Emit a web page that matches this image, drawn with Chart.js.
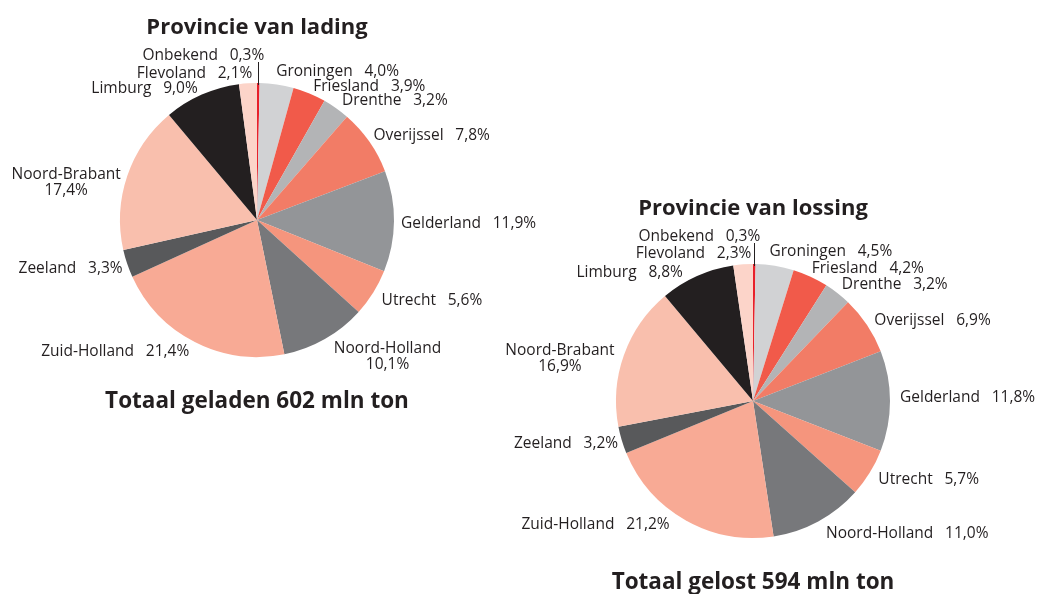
<!DOCTYPE html>
<html>
<head>
<meta charset="utf-8">
<script src="https://cdn.jsdelivr.net/npm/chart.js@4/dist/chart.umd.min.js"></script>
<style>
  html, body { margin: 0; padding: 0; background: #ffffff; }
  #wrap { position: relative; width: 1040px; height: 594px; overflow: hidden; }
  canvas { position: absolute; top: 0; left: 0; }
</style>
</head>
<body>
<div id="wrap">
  <canvas id="cLading" width="1040" height="594"></canvas>
  <canvas id="cLossing" width="1040" height="594"></canvas>
</div>
<script>
// ---- data ----
const categories = ['Onbekend', 'Groningen', 'Friesland', 'Drenthe', 'Overijssel', 'Gelderland',
  'Utrecht', 'Noord-Holland', 'Zuid-Holland', 'Zeeland', 'Noord-Brabant', 'Limburg', 'Flevoland'];
const ladingValues  = [0.3, 4.0, 3.9, 3.2, 7.8, 11.9, 5.6, 10.1, 21.4, 3.3, 17.4, 9.0, 2.1];
const lossingValues = [0.3, 4.5, 4.2, 3.2, 6.9, 11.8, 5.7, 11.0, 21.2, 3.2, 16.9, 8.8, 2.3];
const ladingTitle = 'Provincie van lading';
const ladingTotal = 'Totaal geladen 602 mln ton';
const lossingTitle = 'Provincie van lossing';
const lossingTotal = 'Totaal gelost 594 mln ton';

// ---- styles ----
const sliceColors = ['#e8202a', '#d1d2d4', '#f15a4a', '#b3b4b6', '#f27c66', '#939598',
  '#f5957d', '#77787b', '#f8aa95', '#58595b', '#f9bfad', '#231f20', '#fcd4c9'];
const textColor = '#231f20';
const labelFont = '15.5px "Open Sans"';
const titleFont = 'bold 22px "Open Sans"';
const totalFont = 'bold 22.5px "Open Sans"';
const nameGap = '\u2002 ';

// label layout tweaks (pixel nudges from the default anchor just outside each slice)
const ladingLayout = {
  nudges: [[0,0],[-2,-3],[0,2],[0,1],[-4,0],[-3,2],[0,3],[4,1],[-1,1],[5,2],[3,2],[0,3],[5,0]],
  wrap: ['Noord-Holland', 'Noord-Brabant'],
  padding: { left: 120, right: 646, top: 83, bottom: 237 }
};
const lossingLayout = {
  nudges: [[0,0],[-7,-4],[-3,1],[-2,-1],[-1,1],[0,-3],[0,2],[3,3],[-11,-4],[6,1],[0,-1],[-10,6],[9,-1]],
  wrap: ['Noord-Brabant'],
  padding: { left: 616, right: 150, top: 264, bottom: 56 }
};

function fmtPct(v) { return v.toFixed(1).replace('.', ',') + '%'; }

const labelPlugin = {
  id: 'pieLabels',
  afterDatasetsDraw(chart, args, opts) {
    const ctx = chart.ctx;
    const meta = chart.getDatasetMeta(0);
    const values = chart.data.datasets[0].data;
    const labels = chart.data.labels;
    let cx = 0, cy = 0, R = 0;
    ctx.save();
    ctx.fillStyle = textColor;
    ctx.strokeStyle = textColor;
    ctx.font = labelFont;
    ctx.textBaseline = 'middle';
    meta.data.forEach((arc, i) => {
      const p = arc.getProps(['x', 'y', 'startAngle', 'endAngle', 'outerRadius'], true);
      cx = p.x; cy = p.y; R = p.outerRadius;
      const mid = (p.startAngle + p.endAngle) / 2;
      const name = labels[i];
      const pct = fmtPct(values[i]);
      if (i === 0) {
        // leader line for the tiny slice
        const lx = p.x + Math.cos(mid) * R;
        const ly = p.y + Math.sin(mid) * R;
        const topY = ly - 21;
        ctx.lineWidth = 1;
        ctx.beginPath();
        ctx.moveTo(Math.round(lx) + 0.5, ly + 2);
        ctx.lineTo(Math.round(lx) + 0.5, topY);
        ctx.stroke();
        ctx.textAlign = 'right';
        ctx.fillText(name + nameGap + pct, lx + 6, topY - 6);
        return;
      }
      const g = R + 10;
      const nd = opts.nudges[i] || [0, 0];
      const ax = p.x + Math.cos(mid) * g + nd[0];
      const ay = p.y + Math.sin(mid) * g + nd[1];
      const right = Math.cos(mid) >= 0;
      const lines = opts.wrap.includes(name) ? [name, pct] : [name + nameGap + pct];
      const bw = Math.max(...lines.map(l => ctx.measureText(l).width));
      ctx.textAlign = 'center';
      lines.forEach((l, k) => {
        const lxC = right ? ax + bw / 2 : ax - bw / 2;
        ctx.fillText(l, lxC, ay + k * 16);
      });
    });
    // titles
    ctx.font = titleFont;
    ctx.textAlign = 'center';
    ctx.fillText(opts.title, cx, cy - R - 55);
    ctx.font = totalFont;
    ctx.fillText(opts.total, cx, cy + R + 45);
    ctx.restore();
  }
};

function makePie(id, values, layout, title, total) {
  return new Chart(document.getElementById(id), {
    type: 'pie',
    data: {
      labels: categories,
      datasets: [{
        data: values,
        backgroundColor: sliceColors,
        borderWidth: 0,
        hoverOffset: 0
      }]
    },
    options: {
      responsive: false,
      animation: false,
      devicePixelRatio: 1,
      layout: { padding: layout.padding },
      plugins: {
        legend: { display: false },
        tooltip: { enabled: false },
        pieLabels: { nudges: layout.nudges, wrap: layout.wrap, title: title, total: total }
      }
    },
    plugins: [labelPlugin]
  });
}

makePie('cLading', ladingValues, ladingLayout, ladingTitle, ladingTotal);
makePie('cLossing', lossingValues, lossingLayout, lossingTitle, lossingTotal);
</script>
</body>
</html>
